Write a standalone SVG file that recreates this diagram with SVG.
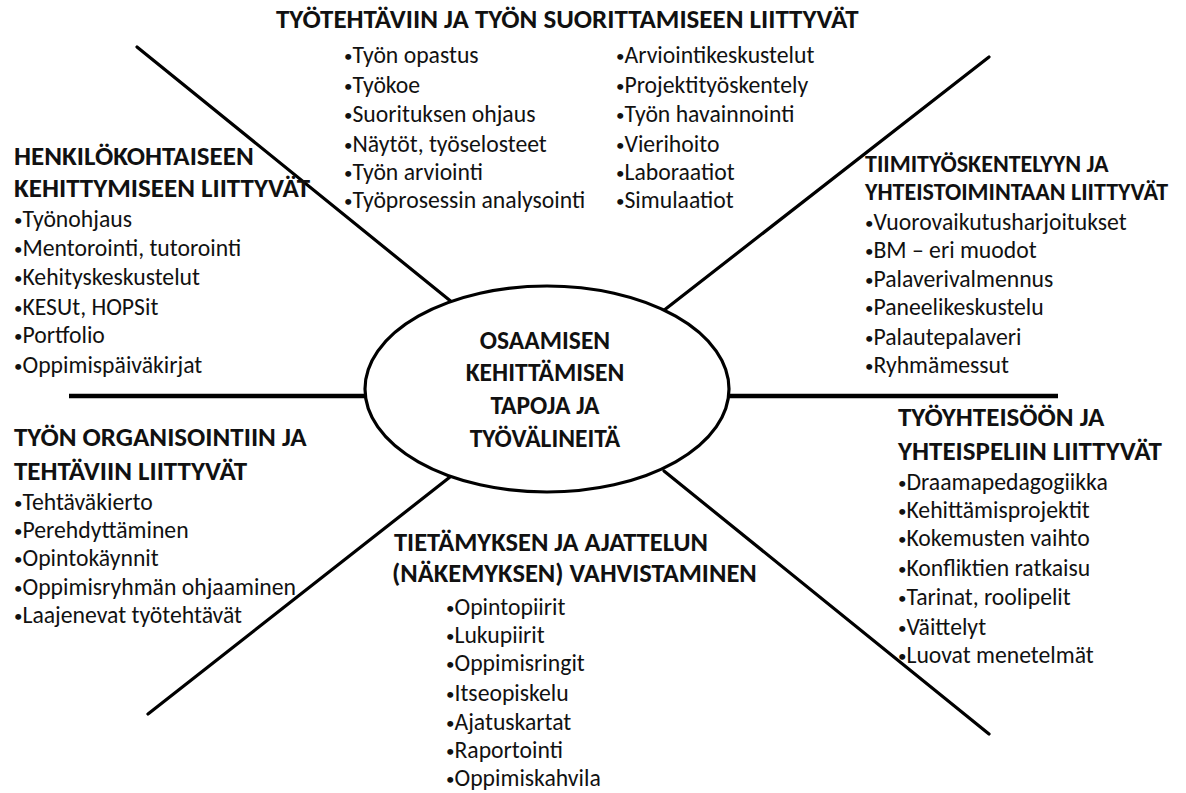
<svg xmlns="http://www.w3.org/2000/svg" width="1186" height="793" viewBox="0 0 1186 793">
  <style>
    text { font-family: Carlito, Lato, "Open Sans", sans-serif; fill: #111; }
    .h { font-weight: bold; font-size: 27px; }
    .h3 { font-weight: bold; font-size: 26.5px; }
    .h2 { font-weight: bold; font-size: 24px; }
    .it { font-size: 23.7px; }
    .b { font-size: 17px; }
    .c { font-weight: bold; font-size: 25.5px; text-anchor: middle; }
    .ln { stroke: #000; stroke-width: 3.2; stroke-linecap: round; fill: none; }
    .hz { stroke: #000; stroke-width: 4.5; fill: none; }
  </style>
  <rect width="1186" height="793" fill="#fff"/>
  <g id="connectors">
    <line class="ln" x1="137" y1="47" x2="453" y2="303"/>
    <line class="ln" x1="663" y1="311" x2="989" y2="57"/>
    <line class="hz" x1="69" y1="396" x2="366" y2="396"/>
    <line class="hz" x1="728" y1="396" x2="1058" y2="396"/>
    <line class="ln" x1="450" y1="477" x2="148" y2="714"/>
    <line class="ln" x1="664" y1="471" x2="989" y2="734"/>
  </g>
  <g id="center">
    <ellipse cx="547" cy="389" rx="182" ry="103" fill="#fff" stroke="#000" stroke-width="3.2"/>
    <text class="c" x="545" y="349">OSAAMISEN</text>
    <text class="c" x="545" y="381">KEHITTÄMISEN</text>
    <text class="c" x="545" y="414">TAPOJA JA</text>
    <text class="c" x="545" y="447">TYÖVÄLINEITÄ</text>
  </g>
  <g id="branch-top">
    <text class="h" x="276" y="28">TYÖTEHTÄVIIN JA TYÖN SUORITTAMISEEN LIITTYVÄT</text>
    <text class="it" x="344" y="63"><tspan class="b" baseline-shift="1.5">•</tspan>Työn opastus</text>
    <text class="it" x="344" y="93"><tspan class="b" baseline-shift="1.5">•</tspan>Työkoe</text>
    <text class="it" x="344" y="122"><tspan class="b" baseline-shift="1.5">•</tspan>Suorituksen ohjaus</text>
    <text class="it" x="344" y="152"><tspan class="b" baseline-shift="1.5">•</tspan>Näytöt, työselosteet</text>
    <text class="it" x="344" y="180"><tspan class="b" baseline-shift="1.5">•</tspan>Työn arviointi</text>
    <text class="it" x="344" y="208"><tspan class="b" baseline-shift="1.5">•</tspan>Työprosessin analysointi</text>
    <text class="it" x="616" y="63"><tspan class="b" baseline-shift="1.5">•</tspan>Arviointikeskustelut</text>
    <text class="it" x="616" y="93"><tspan class="b" baseline-shift="1.5">•</tspan>Projektityöskentely</text>
    <text class="it" x="616" y="122"><tspan class="b" baseline-shift="1.5">•</tspan>Työn havainnointi</text>
    <text class="it" x="616" y="152"><tspan class="b" baseline-shift="1.5">•</tspan>Vierihoito</text>
    <text class="it" x="616" y="180"><tspan class="b" baseline-shift="1.5">•</tspan>Laboraatiot</text>
    <text class="it" x="616" y="208"><tspan class="b" baseline-shift="1.5">•</tspan>Simulaatiot</text>
  </g>
  <g id="branch-personal">
    <text class="h" x="14" y="165">HENKILÖKOHTAISEEN</text>
    <text class="h" x="14" y="197">KEHITTYMISEEN LIITTYVÄT</text>
    <text class="it" x="14" y="227"><tspan class="b" baseline-shift="1.5">•</tspan>Työnohjaus</text>
    <text class="it" x="14" y="256"><tspan class="b" baseline-shift="1.5">•</tspan>Mentorointi, tutorointi</text>
    <text class="it" x="14" y="285"><tspan class="b" baseline-shift="1.5">•</tspan>Kehityskeskustelut</text>
    <text class="it" x="14" y="315"><tspan class="b" baseline-shift="1.5">•</tspan>KESUt, HOPSit</text>
    <text class="it" x="14" y="343"><tspan class="b" baseline-shift="1.5">•</tspan>Portfolio</text>
    <text class="it" x="14" y="373"><tspan class="b" baseline-shift="1.5">•</tspan>Oppimispäiväkirjat</text>
  </g>
  <g id="branch-team">
    <text class="h2" x="865" y="172">TIIMITYÖSKENTELYYN JA</text>
    <text class="h2" x="865" y="200">YHTEISTOIMINTAAN LIITTYVÄT</text>
    <text class="it" x="865" y="230"><tspan class="b" baseline-shift="1.5">•</tspan>Vuorovaikutusharjoitukset</text>
    <text class="it" x="865" y="258"><tspan class="b" baseline-shift="1.5">•</tspan>BM – eri muodot</text>
    <text class="it" x="865" y="287"><tspan class="b" baseline-shift="1.5">•</tspan>Palaverivalmennus</text>
    <text class="it" x="865" y="315"><tspan class="b" baseline-shift="1.5">•</tspan>Paneelikeskustelu</text>
    <text class="it" x="865" y="345"><tspan class="b" baseline-shift="1.5">•</tspan>Palautepalaveri</text>
    <text class="it" x="865" y="373"><tspan class="b" baseline-shift="1.5">•</tspan>Ryhmämessut</text>
  </g>
  <g id="branch-organisation">
    <text class="h" x="14" y="446">TYÖN ORGANISOINTIIN JA</text>
    <text class="h" x="14" y="480">TEHTÄVIIN LIITTYVÄT</text>
    <text class="it" x="14" y="510"><tspan class="b" baseline-shift="1.5">•</tspan>Tehtäväkierto</text>
    <text class="it" x="14" y="538"><tspan class="b" baseline-shift="1.5">•</tspan>Perehdyttäminen</text>
    <text class="it" x="14" y="566"><tspan class="b" baseline-shift="1.5">•</tspan>Opintokäynnit</text>
    <text class="it" x="14" y="595"><tspan class="b" baseline-shift="1.5">•</tspan>Oppimisryhmän ohjaaminen</text>
    <text class="it" x="14" y="623"><tspan class="b" baseline-shift="1.5">•</tspan>Laajenevat työtehtävät</text>
  </g>
  <g id="branch-knowledge">
    <text class="h3" x="394" y="551">TIETÄMYKSEN JA AJATTELUN</text>
    <text class="h3" x="392" y="582">(NÄKEMYKSEN) VAHVISTAMINEN</text>
    <text class="it" x="446" y="615"><tspan class="b" baseline-shift="1.5">•</tspan>Opintopiirit</text>
    <text class="it" x="446" y="643"><tspan class="b" baseline-shift="1.5">•</tspan>Lukupiirit</text>
    <text class="it" x="446" y="671"><tspan class="b" baseline-shift="1.5">•</tspan>Oppimisringit</text>
    <text class="it" x="446" y="701"><tspan class="b" baseline-shift="1.5">•</tspan>Itseopiskelu</text>
    <text class="it" x="446" y="730"><tspan class="b" baseline-shift="1.5">•</tspan>Ajatuskartat</text>
    <text class="it" x="446" y="758"><tspan class="b" baseline-shift="1.5">•</tspan>Raportointi</text>
    <text class="it" x="446" y="786"><tspan class="b" baseline-shift="1.5">•</tspan>Oppimiskahvila</text>
  </g>
  <g id="branch-community">
    <text class="h" x="898" y="426">TYÖYHTEISÖÖN JA</text>
    <text class="h" x="898" y="460">YHTEISPELIIN LIITTYVÄT</text>
    <text class="it" x="898" y="490"><tspan class="b" baseline-shift="1.5">•</tspan>Draamapedagogiikka</text>
    <text class="it" x="898" y="518"><tspan class="b" baseline-shift="1.5">•</tspan>Kehittämisprojektit</text>
    <text class="it" x="898" y="546"><tspan class="b" baseline-shift="1.5">•</tspan>Kokemusten vaihto</text>
    <text class="it" x="898" y="576"><tspan class="b" baseline-shift="1.5">•</tspan>Konfliktien ratkaisu</text>
    <text class="it" x="898" y="605"><tspan class="b" baseline-shift="1.5">•</tspan>Tarinat, roolipelit</text>
    <text class="it" x="898" y="635"><tspan class="b" baseline-shift="1.5">•</tspan>Väittelyt</text>
    <text class="it" x="898" y="663"><tspan class="b" baseline-shift="1.5">•</tspan>Luovat menetelmät</text>
  </g>
</svg>
